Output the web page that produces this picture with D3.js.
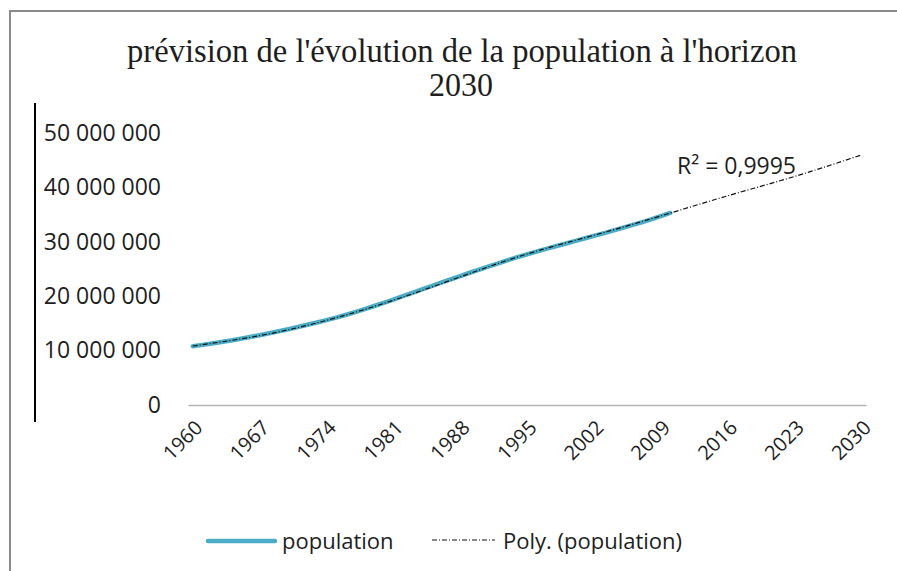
<!DOCTYPE html>
<html>
<head>
<meta charset="utf-8">
<script src="https://cdn.jsdelivr.net/npm/d3@7"></script>
<style>
  body { margin: 0; background: #fff; }
  text { font-family: "Open Sans", sans-serif; fill: #1e1e1e; }
</style>
</head>
<body>
<svg id="chart" width="897" height="571"></svg>
<script>
// categories on the x axis (Excel category axis, forecast to 2030)
const categories = d3.range(1960, 2031);
const tickYears = [1960, 1967, 1974, 1981, 1988, 1995, 2002, 2009, 2016, 2023, 2030];

// observed population 1960-2010
const popYears = d3.range(1960, 2011);
const popValues = [
  10800000, 11050000, 11300000, 11570000, 11860000, 12170000, 12490000, 12830000, 13180000, 13550000,
  13930000, 14330000, 14740000, 15160000, 15600000, 16050000, 16550000, 17080000, 17630000, 18200000,
  18790000, 19390000, 20000000, 20620000, 21240000, 21860000, 22480000, 23100000, 23710000, 24310000,
  24900000, 25480000, 26050000, 26620000, 27170000, 27700000, 28210000, 28700000, 29180000, 29650000,
  30120000, 30600000, 31080000, 31560000, 32050000, 32550000, 33060000, 33580000, 34110000, 34720000,
  35300000
];

// polynomial trendline at the labelled years
const trendYears = [1960, 1967, 1974, 1981, 1988, 1995, 2002, 2009, 2016, 2023, 2030];
const trendValues = [10850000, 12750000, 15550000, 19250000, 23550000, 27750000, 31200000, 34750000, 38450000, 42000000, 45950000];

const yTicks = [0, 10000000, 20000000, 30000000, 40000000, 50000000];
const titleLines = ["prévision de l'évolution de la population à l'horizon", "2030"];
const r2Label = "R² = 0,9995";

const svg = d3.select("#chart");

// outer frame (only top and left edges visible)
svg.append("path")
  .attr("d", "M10,571 V11 H897")
  .attr("fill", "none")
  .attr("stroke", "#8a8a8a")
  .attr("stroke-width", 2);

const x = d3.scaleBand().domain(categories).range([188, 866]);
const bw = x.bandwidth();
const cx = yr => x(yr) + bw / 2;
const y = d3.scaleLinear().domain([0, 50000000]).range([405, 133]);

const fr = d3.formatLocale({ decimal: ",", thousands: " ", grouping: [3], currency: ["", " €"] });
const fmt = fr.format(",d");

// title
svg.append("text")
  .attr("x", 462).attr("y", 62)
  .attr("text-anchor", "middle")
  .attr("textLength", 670).attr("lengthAdjust", "spacingAndGlyphs")
  .style("font-family", "'Liberation Serif', serif")
  .style("font-size", "34px")
  .text(titleLines[0]);
svg.append("text")
  .attr("x", 461).attr("y", 96)
  .attr("text-anchor", "middle")
  .attr("textLength", 64).attr("lengthAdjust", "spacingAndGlyphs")
  .style("font-family", "'Liberation Serif', serif")
  .style("font-size", "34px")
  .text(titleLines[1]);

// stray vertical rule left of the labels
svg.append("line")
  .attr("x1", 35).attr("x2", 35).attr("y1", 103).attr("y2", 422)
  .attr("stroke", "#000").attr("stroke-width", 2);

// y axis labels
const yAxis = svg.append("g")
  .attr("transform", "translate(188,0)")
  .call(d3.axisLeft(y).tickValues(yTicks).tickSize(0).tickPadding(27).tickFormat(fmt));
yAxis.select(".domain").remove();
yAxis.selectAll("text")
  .style("font-family", "'Open Sans', sans-serif")
  .style("font-size", "23px")
  .attr("fill", "#1e1e1e");

// x axis
const xAxis = svg.append("g")
  .attr("transform", "translate(0,405)")
  .call(d3.axisBottom(x).tickValues(tickYears).tickSize(0).tickSizeOuter(0));
xAxis.select(".domain").attr("stroke", "#b3b3b3").attr("stroke-width", 1.5);
xAxis.selectAll(".tick text")
  .attr("transform", "translate(11,24) rotate(-45)")
  .attr("text-anchor", "end")
  .attr("dy", 0).attr("y", 0)
  .style("font-family", "'Open Sans', sans-serif")
  .style("font-size", "20px")
  .attr("fill", "#1e1e1e");

// population line
const popData = popYears.map((yr, i) => ({ year: yr, value: popValues[i] }));
svg.append("path")
  .datum(popData)
  .attr("fill", "none")
  .attr("stroke", "#4bacc6")
  .attr("stroke-width", 4.5)
  .attr("stroke-linecap", "round")
  .attr("stroke-linejoin", "round")
  .attr("d", d3.line().x(d => cx(d.year)).y(d => y(d.value)));

// polynomial trendline
const trendData = trendYears.map((yr, i) => ({ year: yr, value: trendValues[i] }));
svg.append("path")
  .datum(trendData)
  .attr("fill", "none")
  .attr("stroke", "#111")
  .attr("stroke-width", 1.2)
  .attr("stroke-dasharray", "5,2,1,2")
  .attr("d", d3.line().x(d => cx(d.year)).y(d => y(d.value)).curve(d3.curveNatural));

svg.append("text")
  .attr("x", 677).attr("y", 174)
  .style("font-size", "23px")
  .text(r2Label);

// legend
const lg = svg.append("g");
lg.append("line")
  .attr("x1", 208).attr("x2", 275).attr("y1", 541).attr("y2", 541)
  .attr("stroke", "#4bacc6").attr("stroke-width", 4.5).attr("stroke-linecap", "round");
lg.append("text").attr("x", 282).attr("y", 549).style("font-size", "22px").text("population");
lg.append("line")
  .attr("x1", 432).attr("x2", 495).attr("y1", 540).attr("y2", 540)
  .attr("stroke", "#111").attr("stroke-width", 1.2).attr("stroke-dasharray", "5,2,1,2");
lg.append("text").attr("x", 503).attr("y", 549).style("font-size", "22px").text("Poly. (population)");
</script>
</body>
</html>
